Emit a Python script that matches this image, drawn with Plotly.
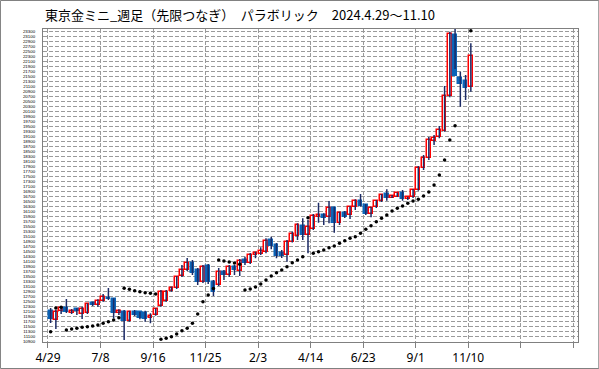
import pandas as pd
import plotly.graph_objects as go

# ---- data (weekly candles, 先限つなぎ) ----
start = pd.Timestamp("2024-04-29")
n_weeks = 81
opens = [12110,11740,12100,12230,12030,12180,11980,12020,12420,12330,12510,12620,12580,12010,12070,11710,12070,12050,12030,11810,
         11940,12300,12510,12900,13010,13500,13740,14020,13740,13270,13900,13260,13140,13660,13540,13870,13710,14140,14030,14340,
         14380,14470,14940,14740,14420,14340,14870,15100,15510,15140,15370,15850,15940,15850,16210,15610,16030,15940,16250,16500,
         16340,15980,16250,16500,16780,16630,16670,16830,16570,16650,16940,17820,18220,18900,19050,19310,20700,23140,21410,21310,
         21050]
highs = [12220,12140,12300,12580,12180,12210,12270,12410,12470,12570,12780,13020,12610,12170,12140,12110,12140,12070,12110,12010,
         12210,12940,12940,13070,13500,13940,14220,14140,13820,13940,13980,13340,13820,13740,13940,13940,14180,14270,14420,14470,
         14650,15010,15070,14820,14540,14940,15270,15610,15810,15740,15980,16430,16010,16500,16270,16070,16100,16300,16570,16780,
         16380,16270,16540,16780,16970,16740,16840,16940,16670,16980,17900,18340,19060,19140,19500,21100,23270,23470,21670,21540,
         22810]
lows = [11620,11380,11980,12020,11980,11940,11780,11980,12300,12270,12470,12540,11810,11940,10940,11670,11900,11770,11670,11610,
        11910,12270,12470,12870,12980,13460,13700,13540,13140,13220,13180,12700,13100,13340,13460,13540,13500,13940,13980,14210,
        14340,14410,14570,14210,14220,14070,14840,14940,14940,14410,15340,15630,15540,15610,15230,15540,15820,15780,16140,16270,
        15940,15850,16220,16460,16510,16620,16660,16510,16540,16620,16910,17740,18140,18740,19010,19270,20650,21780,20270,20540,
        20870]
closes = [11770,12070,12220,12070,12100,12110,12180,12380,12340,12510,12660,12580,12010,12110,11710,12070,11940,11810,11790,11900,
          12170,12870,12870,13010,13450,13740,14020,13620,13260,13860,13260,12860,13650,13540,13850,13740,14110,14030,14340,14430,
          14500,14900,14700,14300,14300,14850,15180,15540,15140,15460,15900,15940,15830,16210,15630,16010,15870,16250,16500,16300,
          15980,16210,16500,16740,16610,16710,16810,16570,16650,16940,17810,18220,18940,19030,19340,20700,23180,21500,21180,21010,
          22300]
sar = [11270,12220,12250,11340,11380,11410,11450,11470,11500,11540,11610,11670,11740,11830,13010,12970,12910,12870,12830,12810,
       12780,10970,11010,11070,11180,11310,11410,11610,11980,12470,12740,13000,14140,14100,14060,14020,13970,12940,12980,13060,
       13180,13340,13500,13630,13740,13870,14030,14140,14270,15830,14410,14470,14540,14630,14700,14810,14910,15010,15070,15210,
       15370,15510,15670,15810,15940,16100,16210,16300,16410,16500,16570,16700,16860,17140,17540,18140,18940,19510,23450,23410,
       23310]
tick_labels = ["4/29", "7/8", "9/16", "11/25", "2/3", "4/14", "6/23", "9/1", "11/10", "", ""]
y_ticks = list(range(10900, 23301, 200))

weeks = [start + pd.Timedelta(days=7 * i) for i in range(n_weeks)]
centers = [w + pd.Timedelta(days=3.5) for w in weeks]
tick_dates = [start + pd.Timedelta(days=70 * k) for k in range(len(tick_labels))]

UP = "#ff0000"
DOWN = "#0b64b8"
WICK = "#1c2b66"

wx, wy = [], []
for c, lo, hi in zip(centers, lows, highs):
    wx += [c, c, None]
    wy += [lo, hi, None]

base = [min(o, c) for o, c in zip(opens, closes)]
height = [max(abs(c - o), 8) for o, c in zip(opens, closes)]
fill = ["white" if c >= o else DOWN for o, c in zip(opens, closes)]
edge = [UP if c >= o else DOWN for o, c in zip(opens, closes)]

fig = go.Figure()
fig.add_trace(go.Scatter(x=wx, y=wy, mode="lines", line=dict(color=WICK, width=1.5),
                         hoverinfo="skip", showlegend=False))
fig.add_trace(go.Bar(x=centers, y=height, base=base, width=0.72 * 7 * 86400000,
                     marker=dict(color=fill, line=dict(color=edge, width=1.5)),
                     showlegend=False))
fig.add_trace(go.Scatter(x=centers, y=sar, mode="markers", cliponaxis=False,
                         marker=dict(color="black", size=3.5, symbol="circle"),
                         showlegend=False))

x_left = start - pd.Timedelta(days=6.65)
x_right = start + pd.Timedelta(days=706.3)

fig.update_layout(
    width=599, height=369,
    margin=dict(l=43, r=21, t=29, b=27),
    paper_bgcolor="white", plot_bgcolor="white",
    bargap=0,
    font=dict(family="Noto Sans, DejaVu Sans", color="black"),
    annotations=[dict(text="東京金ミニ_週足（先限つなぎ）　パラボリック　2024.4.29～11.10",
                      xref="paper", yref="paper", x=0.0, y=1.0, xanchor="left", yanchor="middle",
                      yshift=15, showarrow=False,
                      font=dict(family="Noto Sans CJK JP", size=13, color="black"))],
    shapes=[dict(type="rect", xref="paper", yref="paper",
                 x0=-0.0795, x1=1.0389, y0=-0.0847, y1=1.0911,
                 line=dict(color="#808080", width=1), fillcolor="rgba(0,0,0,0)", layer="below")],
)
fig.update_xaxes(
    type="date", range=[x_left, x_right], automargin=False,
    tickvals=tick_dates, ticktext=tick_labels,
    ticks="outside", ticklen=5, tickcolor="#808080",
    showgrid=True, gridcolor="#9a9a9a", griddash="4px,2px", gridwidth=1,
    showline=True, linecolor="#808080", mirror=True,
    tickfont=dict(size=12, family="Noto Sans", color="black"),
    zeroline=False,
)
fig.update_yaxes(
    range=[10860, 23380], automargin=False,
    tickvals=y_ticks, ticktext=[str(v) for v in y_ticks],
    ticks="", ticklabelstandoff=6,
    showgrid=True, gridcolor="#9a9a9a", griddash="4px,2px", gridwidth=1,
    showline=True, linecolor="#808080", mirror=True,
    tickfont=dict(size=4.4, family="Liberation Sans", color="black"),
    zeroline=False,
)
fig.write_html("out.html", config={"displayModeBar": False},
               post_script="document.body.style.margin='0';document.body.style.overflow='hidden';")
